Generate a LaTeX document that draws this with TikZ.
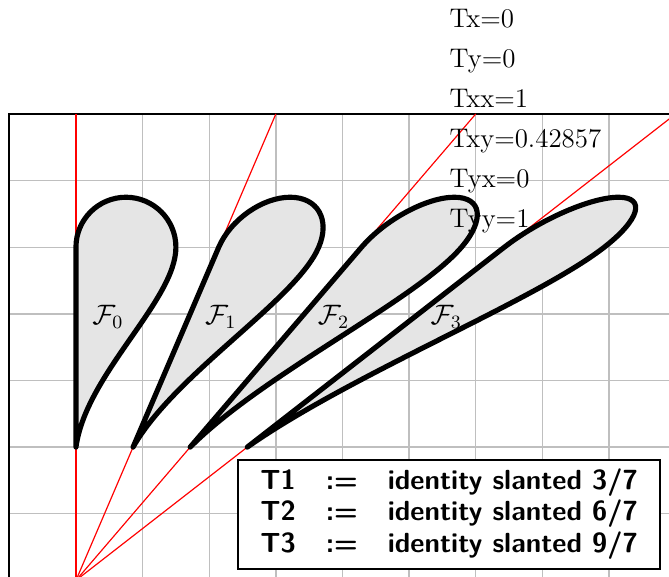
\documentclass[tikz,border=0pt]{standalone}
\usepackage{amsmath}
\usetikzlibrary{calc}

\begin{document}
\begin{tikzpicture}[x=1cm,y=1cm]
\tikzset{
  gridline/.style={draw=black!25, line width=0.6pt},
  frame/.style={draw=black, line width=0.8pt},
  ray/.style={draw=red, line width=0.5pt},
  petal/.style={draw=black, line width=2.2pt, fill=black!10, line join=round},
  tag/.style={font=\large, inner sep=0pt},
  entry/.style={font=\fontsize{11.5}{13.8}\selectfont, anchor=base west, inner sep=0pt},
  legend/.style={draw=black, line width=0.8pt, fill=white,
    font=\fontsize{11.8}{13.5}\selectfont\sffamily\bfseries, inner sep=3pt}
}
\useasboundingbox (-1.14,0.055) rectangle (8.90,8.71);

% background grid
\draw[gridline] (-1,-1) grid (9,7);
\draw[frame] (-1,-1) rectangle (9,7);

% slant rays
\coordinate (o) at (0,0);
\foreach \k in {0,3,6,9}
  \draw[ray] (o) -- (\k,7);

% the four slanted drops
\foreach \s/\i in {0/0,3/1,6/2,9/3}{
  \begin{scope}[cm={1,0,\s/7,1,(0,0)}]
    \draw[petal] (0,2) -- (0,5) arc[start angle=180,end angle=0,radius=0.75]
      .. controls (1.5,4.2) and (0.15,3.1) .. cycle;
    \node[tag] (f\i) at (0.48,3.95) {$\mathcal{F}_\i$};
  \end{scope}
}

% transform entries
\foreach \t [count=\n] in {Tx=0,Ty=0,Txx=1,Txy=0.42857,Tyx=0,Tyy=1}
  \node[entry] (t\n) at (5.6,{8.9-0.6*\n}) {\t};

\node[legend] (key) at (5.6,0.99) {\setlength{\tabcolsep}{6.4pt}\begin{tabular}{lll}
T1 & := & identity slanted 3/7\\
T2 & := & identity slanted 6/7\\
T3 & := & identity slanted 9/7
\end{tabular}};
\end{tikzpicture}
\end{document}
